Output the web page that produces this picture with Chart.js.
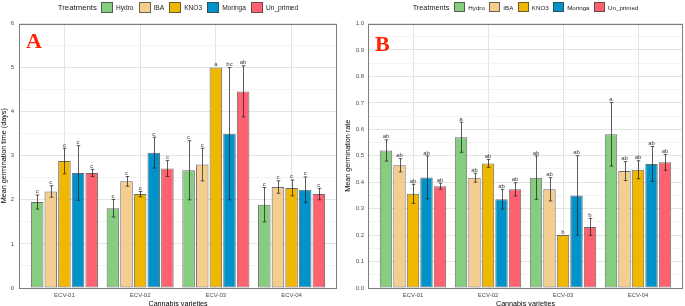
<!DOCTYPE html>
<html><head><meta charset="utf-8">
<script src="https://cdn.jsdelivr.net/npm/chart.js@4"></script>
<style>
body{margin:0;width:685px;height:306px;position:relative;background:#fff;overflow:hidden;font-family:"Liberation Sans",Arial,sans-serif}
.wrap{position:absolute;top:0;height:306px}
#wa{left:0;width:342px}
#wb{left:342px;width:343px}
canvas{display:block}
.legend{position:absolute;top:1px;height:12px;display:flex;justify-content:center;align-items:center;white-space:nowrap;color:#1a1a1a}
.legend .key{display:inline-block;box-sizing:border-box;border:1px solid rgba(60,60,60,0.75)}
.tag{position:absolute;font-family:"Liberation Serif","DejaVu Serif",serif;font-weight:bold;font-size:22px;line-height:22px;color:#ff2200}
</style>
</head><body>
<div class="wrap" id="wa"><canvas id="ca" width="342" height="306"></canvas></div>
<div class="wrap" id="wb"><canvas id="cb" width="343" height="306"></canvas></div>
<div class="legend" id="la" style="left:19px;width:318px"></div>
<div class="legend" id="lb" style="left:368px;width:315px"></div>
<div class="tag" style="left:26px;top:30px">A</div>
<div class="tag" style="left:375px;top:33px">B</div>
<script>
// ---- data ----
const varieties = ["ECV-01", "ECV-02", "ECV-03", "ECV-04"];
const treatments = ["Hydro", "IBA", "KNO3", "Moringa", "Un_primed"];
const treatmentColors = ["#86cd80", "#f5cd8e", "#efb700", "#0092c9", "#fe6270"];

// Panel A: mean germination time (days)
const timeHydro    = [1.95, 1.81, 2.67, 1.89];
const timeIBA      = [2.19, 2.42, 2.80, 2.29];
const timeKNO3     = [2.88, 2.13, 5.00, 2.27];
const timeMoringa  = [2.61, 3.07, 3.50, 2.23];
const timeUnprimed = [2.61, 2.71, 4.46, 2.13];
const timeErrHydro    = [0.16, 0.20, 0.67, 0.39];
const timeErrIBA      = [0.13, 0.11, 0.37, 0.14];
const timeErrKNO3     = [0.29, 0.06, 0.00, 0.18];
const timeErrMoringa  = [0.62, 0.35, 1.50, 0.29];
const timeErrUnprimed = [0.08, 0.18, 0.58, 0.13];
const timeLetHydro    = ["c", "c", "c", "c"];
const timeLetIBA      = ["c", "c", "c", "c"];
const timeLetKNO3     = ["c", "c", "a", "c"];
const timeLetMoringa  = ["c", "c", "bc", "c"];
const timeLetUnprimed = ["c", "c", "ab", "c"];
const timeTicks = [0, 1, 2, 3, 4, 5, 6];

// Panel B: mean germination rate
const rateHydro    = [0.520, 0.570, 0.417, 0.581];
const rateIBA      = [0.464, 0.417, 0.373, 0.442];
const rateKNO3     = [0.356, 0.471, 0.200, 0.447];
const rateMoringa  = [0.418, 0.336, 0.350, 0.469];
const rateUnprimed = [0.385, 0.373, 0.231, 0.475];
const rateErrHydro    = [0.040, 0.057, 0.082, 0.120];
const rateErrIBA      = [0.025, 0.017, 0.044, 0.036];
const rateErrKNO3     = [0.036, 0.015, 0.000, 0.034];
const rateErrMoringa  = [0.081, 0.037, 0.150, 0.066];
const rateErrUnprimed = [0.011, 0.025, 0.032, 0.030];
const rateLetHydro    = ["ab", "a", "ab", "a"];
const rateLetIBA      = ["ab", "ab", "ab", "ab"];
const rateLetKNO3     = ["ab", "ab", "b", "ab"];
const rateLetMoringa  = ["ab", "ab", "ab", "ab"];
const rateLetUnprimed = ["ab", "ab", "b", "ab"];
const rateTicks = [0.0, 0.1, 0.2, 0.3, 0.4, 0.5, 0.6, 0.7, 0.8, 0.9, 1.0];

// ---- helpers ----
const FONT = "'Liberation Sans', Arial, sans-serif";
const MAJOR = "#e4e4e4", MINOR = "#f3f3f3";

function makeDatasets(vals, errs, lets) {
  return treatments.map((t, k) => ({
    label: t,
    data: varieties.map((v, i) => ({ x: i + 1, y: vals[k][i] })),
    err: errs[k],
    letters: lets[k],
    backgroundColor: treatmentColors[k],
    borderColor: "rgba(60,60,60,0.75)",
    borderWidth: 1,
    borderSkipped: false,
    categoryPercentage: 0.9,
    barPercentage: 0.92
  }));
}

const errPlugin = {
  id: "errbars",
  afterDatasetsDraw(chart) {
    const ctx = chart.ctx, ys = chart.scales.y;
    ctx.save();
    chart.data.datasets.forEach((ds, di) => {
      const meta = chart.getDatasetMeta(di);
      meta.data.forEach((bar, i) => {
        const v = ds.data[i].y, e = ds.err[i];
        const x = Math.round(bar.x) + 0.5;
        const yt = ys.getPixelForValue(v + e), yb = ys.getPixelForValue(v - e);
        if (e > 0) {
          ctx.strokeStyle = "rgba(30,30,30,0.72)";
          ctx.lineWidth = 1;
          ctx.beginPath();
          ctx.moveTo(x, yt); ctx.lineTo(x, yb);
          ctx.moveTo(x - 1.8, yt); ctx.lineTo(x + 1.8, yt);
          ctx.moveTo(x - 1.8, yb); ctx.lineTo(x + 1.8, yb);
          ctx.stroke();
        }
        ctx.fillStyle = "#3a3a3a";
        ctx.font = "6px " + FONT;
        ctx.textAlign = "center";
        ctx.textBaseline = "alphabetic";
        ctx.fillText(ds.letters[i], bar.x, Math.min(yt, bar.y) - 1.5);
      });
    });
    ctx.restore();
  },
  afterDraw(chart) {
    const a = chart.chartArea, ctx = chart.ctx;
    ctx.save();
    ctx.strokeStyle = "#7d7d7d";
    ctx.lineWidth = 1;
    ctx.strokeRect(Math.round(a.left) + 0.5, Math.round(a.top) + 0.5,
                   Math.round(a.right - a.left) - 1, Math.round(a.bottom - a.top) - 1);
    ctx.restore();
  }
};

function isMajor(v, ticks) { return ticks.some(t => Math.abs(t - v) < 1e-6); }

function makeChart(id, datasets, cfg) {
  return new Chart(document.getElementById(id), {
    type: "bar",
    data: { datasets },
    plugins: [errPlugin],
    options: {
      responsive: false,
      animation: false,
      devicePixelRatio: 1,
      layout: { padding: { top: 23.5, right: cfg.padRight, bottom: 0, left: 0 } },
      plugins: { legend: { display: false }, tooltip: { enabled: false } },
      scales: {
        x: {
          type: "linear", min: 0.4, max: 4.6, offset: false,
          afterBuildTicks: s => { s.ticks = varieties.map((v, i) => ({ value: i + 1 })); },
          ticks: { callback: v => varieties[Math.round(v) - 1] || "", font: { size: 6, family: FONT },
                   color: "#4d4d4d", padding: 2, maxRotation: 0, autoSkip: false },
          grid: { color: MAJOR, lineWidth: 1, offset: false, tickLength: 2, tickColor: "rgba(0,0,0,0)" },
          border: { display: false },
          title: { display: true, text: "Cannabis varieties", color: "#000",
                   font: { size: 7.2, family: FONT }, padding: { top: 0, bottom: -2.5 } },
          afterFit: s => { s.height = 18; }
        },
        y: {
          min: 0, max: cfg.max,
          afterBuildTicks: s => {
            const out = [];
            const n = Math.round(cfg.max / cfg.minorStep);
            for (let i = 0; i <= n; i++) out.push({ value: +(i * cfg.minorStep).toFixed(4) });
            s.ticks = out;
          },
          ticks: { callback: v => isMajor(v, cfg.ticks) ? cfg.fmt(v) : "", font: { size: 6, family: FONT },
                   color: "#4d4d4d", padding: 2, autoSkip: false },
          grid: { color: c => isMajor(c.tick.value, cfg.ticks) ? MAJOR : MINOR, lineWidth: 1,
                  tickLength: cfg.tickLen, tickColor: "rgba(0,0,0,0)" },
          border: { display: false },
          title: { display: true, text: cfg.yTitle, color: "#000",
                   font: { size: 7.2, family: FONT }, padding: { top: cfg.titlePad, bottom: 0 } },
          afterFit: s => { s.width = cfg.yWidth; }
        }
      }
    }
  });
}

makeChart("ca",
  makeDatasets([timeHydro, timeIBA, timeKNO3, timeMoringa, timeUnprimed],
               [timeErrHydro, timeErrIBA, timeErrKNO3, timeErrMoringa, timeErrUnprimed],
               [timeLetHydro, timeLetIBA, timeLetKNO3, timeLetMoringa, timeLetUnprimed]),
  { max: 6, minorStep: 0.5, ticks: timeTicks, fmt: v => String(v), yTitle: "Mean germination time (days)",
    yWidth: 19, padRight: 5, tickLen: 3, titlePad: 0 });

makeChart("cb",
  makeDatasets([rateHydro, rateIBA, rateKNO3, rateMoringa, rateUnprimed],
               [rateErrHydro, rateErrIBA, rateErrKNO3, rateErrMoringa, rateErrUnprimed],
               [rateLetHydro, rateLetIBA, rateLetKNO3, rateLetMoringa, rateLetUnprimed]),
  { max: 1, minorStep: 0.05, ticks: rateTicks, fmt: v => v.toFixed(1), yTitle: "Mean germination rate",
    yWidth: 26, padRight: 2, tickLen: 2, titlePad: 1.5 });

// ---- legends (HTML) ----
function buildLegend(id, s) {
  const el = document.getElementById(id);
  const title = document.createElement("span");
  title.textContent = "Treatments";
  title.style.cssText = `font-size:${s.title}px;margin-right:${s.gapTitle}px`;
  el.appendChild(title);
  treatments.forEach((t, k) => {
    const box = document.createElement("span");
    box.className = "key";
    box.style.cssText = `width:${s.boxW}px;height:${s.boxH}px;background:${treatmentColors[k]};margin-right:${s.gapBox}px`;
    el.appendChild(box);
    const lab = document.createElement("span");
    lab.textContent = t;
    lab.style.cssText = `font-size:${s.label}px;margin-right:${k < treatments.length - 1 ? s.gapLabel : 0}px`;
    el.appendChild(lab);
  });
}
buildLegend("la", { title: 7.8, label: 6.6, boxW: 12, boxH: 11, gapTitle: 4, gapBox: 3, gapLabel: 5 });
buildLegend("lb", { title: 7.3, label: 6.2, boxW: 11, boxH: 10, gapTitle: 5, gapBox: 3, gapLabel: 4.5 });
</script>
</body></html>
